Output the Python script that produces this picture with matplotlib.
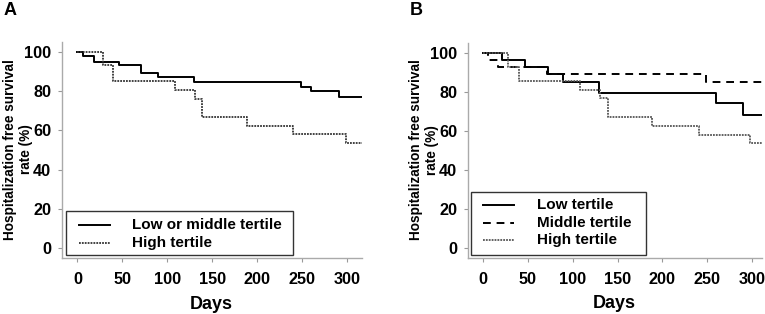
import matplotlib
matplotlib.use("Agg")
import matplotlib.pyplot as plt
from matplotlib.lines import Line2D
from matplotlib.patches import Rectangle

plt.rcParams['font.family'] = ['Liberation Sans', 'DejaVu Sans']
plt.rcParams['font.weight'] = 'bold'

# Panel A
a_low_mid_days = [0, 6, 18, 46.8, 71, 89.5, 130, 249, 260, 290.7, 316]
a_low_mid_surv = [100, 98.3, 95.0, 93.2, 89.2, 87.2, 84.8, 82.4, 79.9, 77.3, 77.3]
a_high_days = [0, 28, 40, 108, 131, 139, 189, 240, 299, 316]
a_high_surv = [100, 93.2, 85.4, 80.7, 76.1, 67.1, 62.5, 58.0, 53.5, 53.5]

# Panel B
b_low_days = [0, 21.1, 47.1, 73.0, 89.7, 129.8, 259.5, 289.2, 311]
b_low_surv = [100, 96.6, 93.1, 89.2, 84.9, 79.4, 74.3, 68.4, 68.4]
b_mid_days = [0, 6.3, 17.4, 71.2, 248.0, 311]
b_mid_surv = [100, 96.6, 93.1, 89.2, 84.9, 84.9]
b_high_days = [0, 28.5, 40, 108.3, 130.5, 139.8, 188.7, 241, 297.4, 311]
b_high_surv = [100, 93.1, 85.6, 80.8, 76.8, 67.4, 62.8, 58.1, 53.7, 53.7]

x_ticks = [0, 50, 100, 150, 200, 250, 300]
y_ticks = [0, 20, 40, 60, 80, 100]
y_label = "Hospitalization free survival\nrate (%)"
x_label = "Days"
legend_A = ["Low or middle tertile", "High tertile"]
legend_B = ["Low tertile", "Middle tertile", "High tertile"]

fig = plt.figure(figsize=(7.65, 3.14), dpi=100)
axA = fig.add_axes([0.0807, 0.1774, 0.392, 0.690])
axB = fig.add_axes([0.6114, 0.1774, 0.3843, 0.687])

solid_kw = dict(color='black', lw=1.4, linestyle='-')
dash_kw = dict(color='black', lw=1.4, linestyle=(0, (4, 3)))
dotA_kw = dict(color='#333333', lw=1.3, linestyle=(0, (1, 0.6)))
dotB_kw = dict(color='#555555', lw=1.3, linestyle=(0, (1, 0.6)))

axA.step(a_low_mid_days, a_low_mid_surv, where='post', **solid_kw)
axA.step(a_high_days, a_high_surv, where='post', **dotA_kw)

axB.step(b_low_days, b_low_surv, where='post', **solid_kw)
axB.step(b_mid_days, b_mid_surv, where='post', **dash_kw)
axB.step(b_high_days, b_high_surv, where='post', **dotB_kw)

axA.set_xlim(-17.4, 316)
axB.set_xlim(-16.7, 310.5)
for ax, w in ((axA, 300.0), (axB, 294.0)):
    ax.set_ylim(-5.4, 105.4)
    ax.set_xticks(x_ticks)
    ax.set_yticks(y_ticks)
    ax.tick_params(axis='both', labelsize=11.7, color='#999999', length=3, width=0.8, pad=4.5)
    ax.tick_params(axis='x', pad=7)
    for lab in ax.get_xticklabels() + ax.get_yticklabels():
        lab.set_fontweight('bold')
    for s in ('top', 'right'):
        ax.spines[s].set_visible(False)
    for s in ('left', 'bottom'):
        ax.spines[s].set_color('#aaaaaa')
        ax.spines[s].set_linewidth(1.0)
    ax.set_xlabel(x_label, fontsize=13, fontweight='bold')
    ax.xaxis.set_label_coords(0.5, -0.172)
    ax.set_ylabel(y_label, fontsize=9.8, fontweight='bold', linespacing=1.12)
    ax.yaxis.set_label_coords(-29.0 / w, 0.502)


def draw_legend(ax, box, rows, line_x, text_x, styles, labels):
    ax.add_patch(Rectangle((box[0], box[1]), box[2] - box[0], box[3] - box[1],
                           transform=ax.transAxes, fill=True, facecolor='white',
                           edgecolor='#333333', lw=1.0, zorder=5))
    for y, st, lab in zip(rows, styles, labels):
        ax.add_line(Line2D(line_x, [y, y], transform=ax.transAxes, zorder=6, **st))
        ax.text(text_x, y, lab, transform=ax.transAxes, fontsize=11, fontweight='bold',
                va='center', ha='left', zorder=6)


draw_legend(axA, (0.0133, 0.0152, 0.772, 0.218), [0.154, 0.072], [0.058, 0.161], 0.235,
            [solid_kw, dotA_kw], legend_A)
draw_legend(axB, (0.0102, 0.0153, 0.607, 0.309), [0.247, 0.165, 0.084], [0.052, 0.158], 0.235,
            [solid_kw, dash_kw, dotB_kw], legend_B)

fig.text(0.004, 0.966, "A", fontsize=13, fontweight='bold', va='center', ha='left')
fig.text(0.536, 0.966, "B", fontsize=13, fontweight='bold', va='center', ha='left')

fig.savefig("out.png", dpi=100)
